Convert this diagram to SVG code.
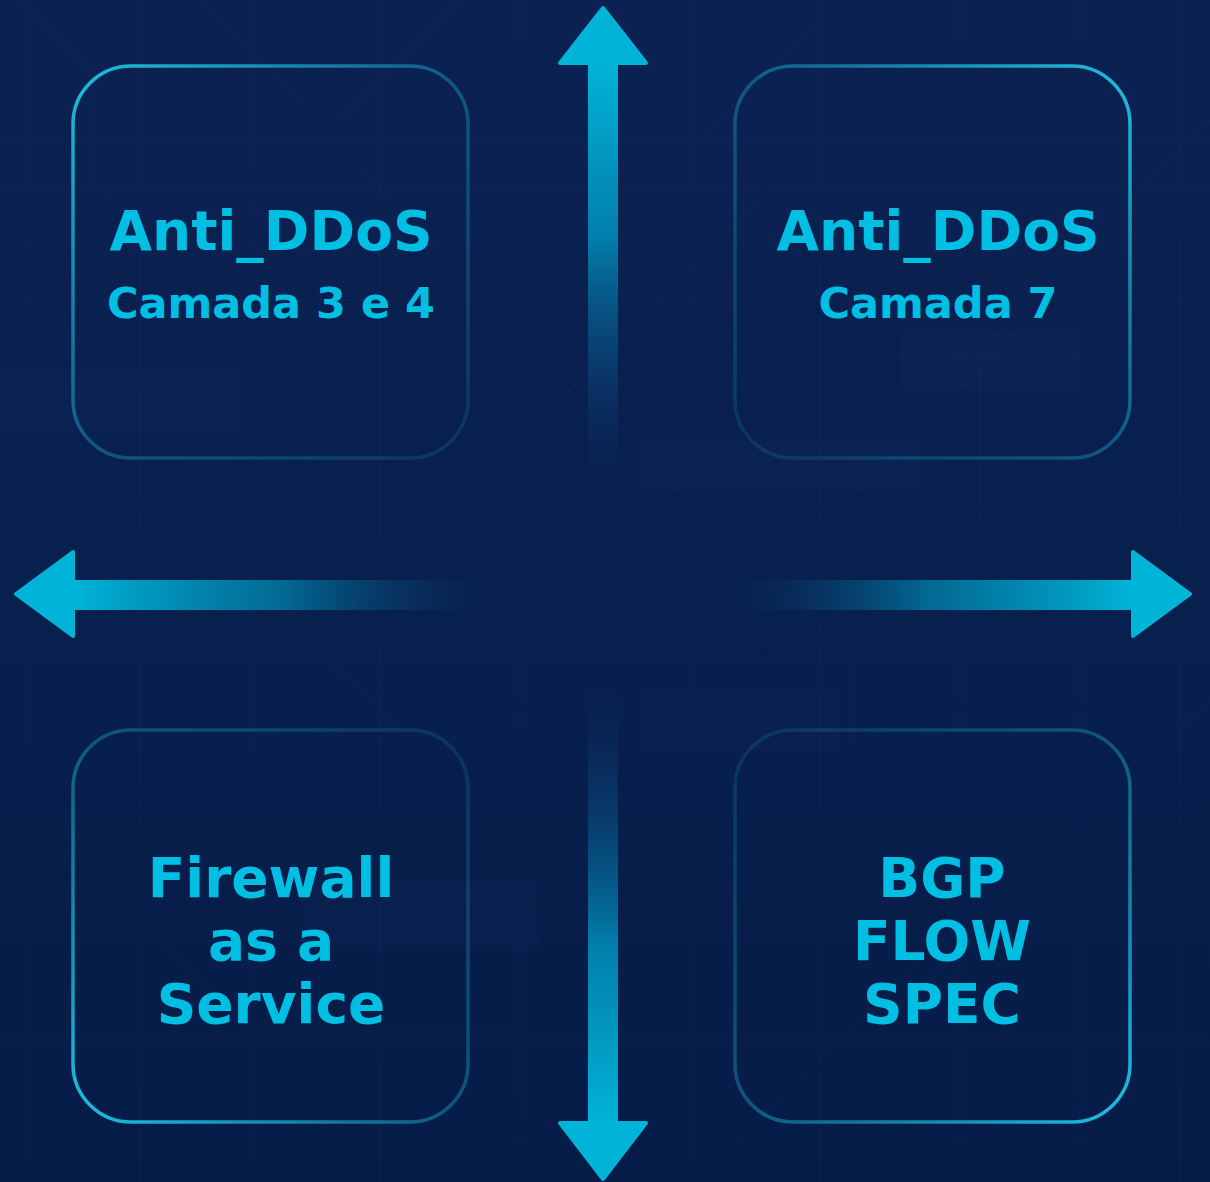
<svg xmlns="http://www.w3.org/2000/svg" width="1210" height="1182" viewBox="0 0 1210 1182">
<defs>
  <style>
    .lbl { font-family: "DejaVu Sans", Verdana, sans-serif; font-weight: bold; fill: #00bfe2; text-anchor: middle; }
    .big { font-size: 55px; }
    .sub { font-size: 43px; }
    .box { fill: none; stroke-width: 3.5; }
    .grid { stroke: #5a86c0; stroke-width: 1; opacity: 0.07; fill: none; }
    .arrow-head { fill: #00b4d8; stroke: #00b4d8; stroke-width: 4; stroke-linejoin: round; }
  </style>
  <linearGradient id="bg" x1="0" y1="0" x2="0" y2="1">
    <stop offset="0" stop-color="#0b2152"/>
    <stop offset="0.5" stop-color="#08204e"/>
    <stop offset="1" stop-color="#061c48"/>
  </linearGradient>
  <linearGradient id="gTL" x1="0" y1="0" x2="1" y2="1">
    <stop offset="0" stop-color="#1dc0e0" stop-opacity="1"/>
    <stop offset="0.5" stop-color="#1dc0e0" stop-opacity="0.35"/>
    <stop offset="1" stop-color="#1dc0e0" stop-opacity="0.12"/>
  </linearGradient>
  <linearGradient id="gTR" x1="1" y1="0" x2="0" y2="1">
    <stop offset="0" stop-color="#1dc0e0" stop-opacity="1"/>
    <stop offset="0.5" stop-color="#1dc0e0" stop-opacity="0.35"/>
    <stop offset="1" stop-color="#1dc0e0" stop-opacity="0.12"/>
  </linearGradient>
  <linearGradient id="gBL" x1="0" y1="1" x2="1" y2="0">
    <stop offset="0" stop-color="#1dc0e0" stop-opacity="1"/>
    <stop offset="0.5" stop-color="#1dc0e0" stop-opacity="0.35"/>
    <stop offset="1" stop-color="#1dc0e0" stop-opacity="0.12"/>
  </linearGradient>
  <linearGradient id="gBR" x1="1" y1="1" x2="0" y2="0">
    <stop offset="0" stop-color="#1dc0e0" stop-opacity="1"/>
    <stop offset="0.5" stop-color="#1dc0e0" stop-opacity="0.35"/>
    <stop offset="1" stop-color="#1dc0e0" stop-opacity="0.12"/>
  </linearGradient>
  <linearGradient id="shaftUp" gradientUnits="userSpaceOnUse" x1="0" y1="63" x2="0" y2="490">
    <stop offset="0" stop-color="#00b4d8" stop-opacity="1"/>
    <stop offset="0.4" stop-color="#0098c4" stop-opacity="0.8"/>
    <stop offset="0.75" stop-color="#0a4a80" stop-opacity="0.45"/>
    <stop offset="1" stop-color="#0a2a5a" stop-opacity="0"/>
  </linearGradient>
  <linearGradient id="shaftDown" gradientUnits="userSpaceOnUse" x1="0" y1="1125" x2="0" y2="680">
    <stop offset="0" stop-color="#00b4d8" stop-opacity="1"/>
    <stop offset="0.4" stop-color="#0098c4" stop-opacity="0.8"/>
    <stop offset="0.75" stop-color="#0a4a80" stop-opacity="0.45"/>
    <stop offset="1" stop-color="#0a2a5a" stop-opacity="0"/>
  </linearGradient>
  <linearGradient id="shaftLeft" gradientUnits="userSpaceOnUse" x1="72" y1="0" x2="500" y2="0">
    <stop offset="0" stop-color="#00b4d8" stop-opacity="1"/>
    <stop offset="0.5" stop-color="#0080aa" stop-opacity="0.75"/>
    <stop offset="1" stop-color="#0a2a5a" stop-opacity="0"/>
  </linearGradient>
  <linearGradient id="shaftRight" gradientUnits="userSpaceOnUse" x1="1134" y1="0" x2="720" y2="0">
    <stop offset="0" stop-color="#00b4d8" stop-opacity="1"/>
    <stop offset="0.5" stop-color="#0080aa" stop-opacity="0.75"/>
    <stop offset="1" stop-color="#0a2a5a" stop-opacity="0"/>
  </linearGradient>
</defs>

<rect x="0" y="0" width="1210" height="1182" fill="url(#bg)"/>

<g id="background-circuit">
  <path class="grid" d="M0 140 H1210 M0 190 H1210 M0 245 H520 M0 300 H1210 M0 355 H1210 M0 470 H1210 M0 520 H1210 M0 660 H1210 M0 720 H1210 M0 860 H1210 M0 940 H1210 M0 1040 H1210 M0 1140 H1210"/>
  <path class="grid" d="M30 0 V1182 M140 0 V1182 M250 0 V1182 M380 0 V1182 M520 0 V1182 M690 0 V1182 M820 0 V1182 M960 0 V1182 M1080 0 V1182 M1180 0 V1182"/>
  <path class="grid" d="M20 0 L90 70 L90 180 L180 270 M200 0 L300 100 M360 170 L850 660 L850 760 M160 490 L600 930 M0 780 L250 1030 L520 1030 M460 0 L230 230 M760 200 L560 400 M1210 120 L980 350 L980 520 M1210 700 L900 1010 M1100 250 L840 510 M700 1182 L1010 870 M820 20 L700 140"/>
  <rect x="0" y="370" width="240" height="60" fill="#4a78b8" opacity="0.035"/>
  <rect x="640" y="440" width="280" height="50" fill="#4a78b8" opacity="0.035"/>
  <rect x="640" y="690" width="200" height="60" fill="#4a78b8" opacity="0.035"/>
  <rect x="300" y="880" width="240" height="70" fill="#4a78b8" opacity="0.035"/>
  <rect x="900" y="330" width="180" height="60" fill="#4a78b8" opacity="0.035"/>
</g>

<g id="connectors">
  <g id="arrow-up">
    <rect x="588" y="60" width="30" height="430" fill="url(#shaftUp)"/>
    <polygon class="arrow-head" points="603,8 646,63 560,63"/>
  </g>
  <g id="arrow-down">
    <rect x="588" y="680" width="30" height="446" fill="url(#shaftDown)"/>
    <polygon class="arrow-head" points="560,1123 646,1123 603,1179"/>
  </g>
  <g id="arrow-left">
    <rect x="70" y="580" width="430" height="30" fill="url(#shaftLeft)"/>
    <polygon class="arrow-head" points="16,594 73,552 73,636"/>
  </g>
  <g id="arrow-right">
    <rect x="720" y="580" width="416" height="30" fill="url(#shaftRight)"/>
    <polygon class="arrow-head" points="1190,594 1133,552 1133,636"/>
  </g>
</g>

<g id="node-anti-ddos-l34">
  <rect class="box" x="73" y="66" width="395" height="392" rx="58" ry="58" stroke="url(#gTL)"/>
  <text class="lbl big" x="271" y="250">Anti_DDoS</text>
  <text class="lbl sub" x="271" y="318">Camada 3 e 4</text>
</g>

<g id="node-anti-ddos-l7">
  <rect class="box" x="735" y="66" width="395" height="392" rx="58" ry="58" stroke="url(#gTR)"/>
  <text class="lbl big" x="938" y="250">Anti_DDoS</text>
  <text class="lbl sub" x="938" y="318">Camada 7</text>
</g>

<g id="node-firewall">
  <rect class="box" x="73" y="730" width="395" height="392" rx="58" ry="58" stroke="url(#gBL)"/>
  <text class="lbl big" x="271" y="897">Firewall</text>
  <text class="lbl big" x="271" y="960">as a</text>
  <text class="lbl big" x="271" y="1023">Service</text>
</g>

<g id="node-bgp">
  <rect class="box" x="735" y="730" width="395" height="392" rx="58" ry="58" stroke="url(#gBR)"/>
  <text class="lbl big" x="942" y="897">BGP</text>
  <text class="lbl big" x="942" y="960">FLOW</text>
  <text class="lbl big" x="942" y="1023">SPEC</text>
</g>
</svg>
